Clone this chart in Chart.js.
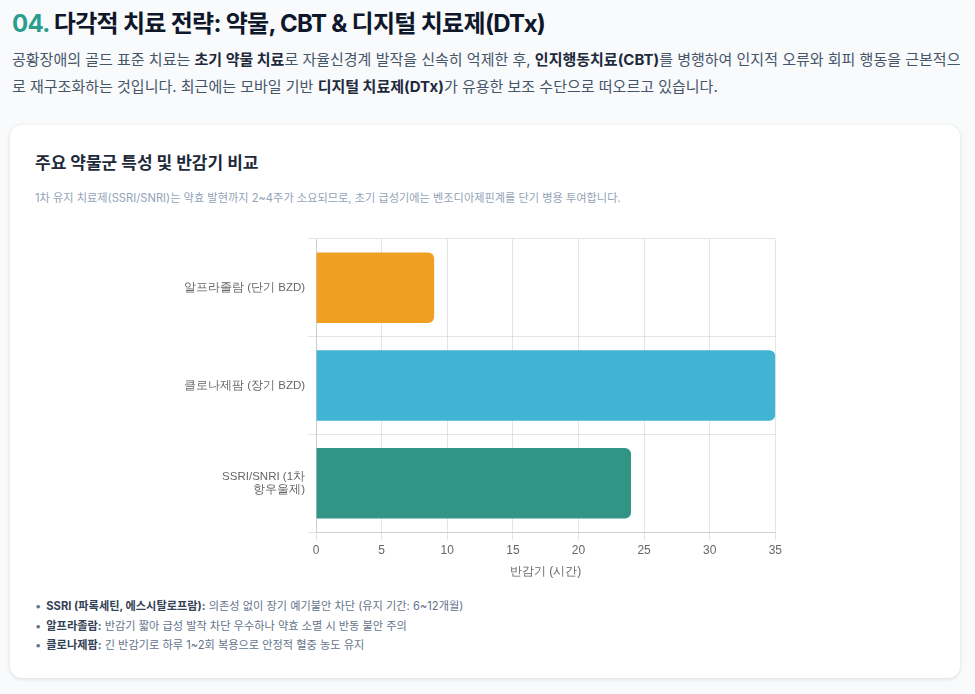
<html>

<head>
    <meta charset="utf-8">
    <title>다각적 치료 전략</title>
    <script src="https://cdn.jsdelivr.net/npm/chart.js@4.4.1/dist/chart.umd.min.js"></script>
    <style>
        body {
            margin: 0;
            padding: 0 12px;
            background: #f8fafc;
            font-family: "Inter", "Noto Sans CJK KR", sans-serif;
            color: #475569;
        }

        h2 {
            margin: 4px 0 7px 0;
            font-size: 24px;
            font-weight: 700;
            color: #0f172a;
            letter-spacing: -0.7px;
        }

        h2 .num {
            color: #2a9d8f;
        }

        .intro {
            margin: 0 0 25px 0;
            font-size: 15px;
            line-height: 27px;
            color: #475569;
        }

        .intro b {
            color: #1e293b;
        }

        .card {
            background: #fff;
            border-radius: 12px;
            box-shadow: 0 1px 4px rgba(0, 0, 0, 0.12);
            padding: 22px 25px 22px 25px;
            margin-right: 3px;
            margin-left: -2px;
        }

        .card h3 {
            margin: 2px 0 15px 0;
            font-size: 17px;
            font-weight: 700;
            color: #1e293b;
        }

        .card .sub {
            margin: 0 0 17px 0;
            font-size: 11.2px;
            color: #94a3b8;
        }

        .chart-box {
            max-width: 604px;
            height: 361px;
            margin: 0 auto;
            position: relative;
            left: -2px;
        }

        ul {
            margin: 14px 0 0 0;
            padding: 0;
            list-style: none;
            font-size: 11.2px;
            line-height: 19.5px;
            color: #64748b;
        }

        ul li::before {
            content: "•";
            margin-right: 5px;
            color: #64748b;
        }

        ul b {
            color: #334155;
        }
    </style>
</head>

<body>
    <h2><span class="num">04.</span> 다각적 치료 전략: 약물, CBT &amp; 디지털 치료제(DTx)</h2>
    <p class="intro">공황장애의 골드 표준 치료는 <b>초기 약물 치료</b>로 자율신경계 발작을 신속히 억제한 후, <b>인지행동치료(CBT)</b>를 병행하여 인지적 오류와 회피 행동을 근본적으로 재구조화하는 것입니다. 최근에는 모바일 기반 <b>디지털 치료제(DTx)</b>가 유용한 보조 수단으로 떠오르고 있습니다.</p>

    <div class="card">
        <h3>주요 약물군 특성 및 반감기 비교</h3>
        <p class="sub">1차 유지 치료제(SSRI/SNRI)는 약효 발현까지 2~4주가 소요되므로, 초기 급성기에는 벤조디아제핀계를 단기 병용 투여합니다.</p>
        <div class="chart-box">
            <canvas id="halfLifeChart"></canvas>
        </div>
        <ul>
            <li><b>SSRI (파록세틴, 에스시탈로프람):</b> 의존성 없이 장기 예기불안 차단 (유지 기간: 6~12개월)</li>
            <li><b>알프라졸람:</b> 반감기 짧아 급성 발작 차단 우수하나 약효 소멸 시 반동 불안 주의</li>
            <li><b>클로나제팜:</b> 긴 반감기로 하루 1~2회 복용으로 안정적 혈중 농도 유지</li>
        </ul>
    </div>

    <script>
        // 약물군 / 반감기(시간)
        var drugLabels = ['알프라졸람 (단기 BZD)', '클로나제팜 (장기 BZD)', ['SSRI/SNRI (1차', '항우울제)']];
        var halfLives = [9, 35, 24];
        var barColors = ['#ef9f22', '#41b3d3', '#329485'];
        var axisMax = 35;

        var ctx = document.getElementById('halfLifeChart');
        var myChart = new Chart(ctx, {
            type: 'bar',
            data: {
                labels: drugLabels,
                datasets: [
                    {
                        label: '반감기 (시간)',
                        data: halfLives,
                        backgroundColor: barColors,
                        borderRadius: 6,
                        borderSkipped: 'start'
                    }
                ]
            },
            options: {
                indexAxis: 'y',
                responsive: true,
                maintainAspectRatio: false,
                animation: false,
                plugins: {
                    legend: { display: false }
                },
                scales: {
                    x: {
                        beginAtZero: true,
                        max: axisMax,
                        ticks: { stepSize: 5 },
                        title: {
                            display: true,
                            text: '반감기 (시간)'
                        }
                    },
                    y: {
                        ticks: { font: { size: 11.5 } }
                    }
                }
            }
        });
    </script>
</body>

</html>
